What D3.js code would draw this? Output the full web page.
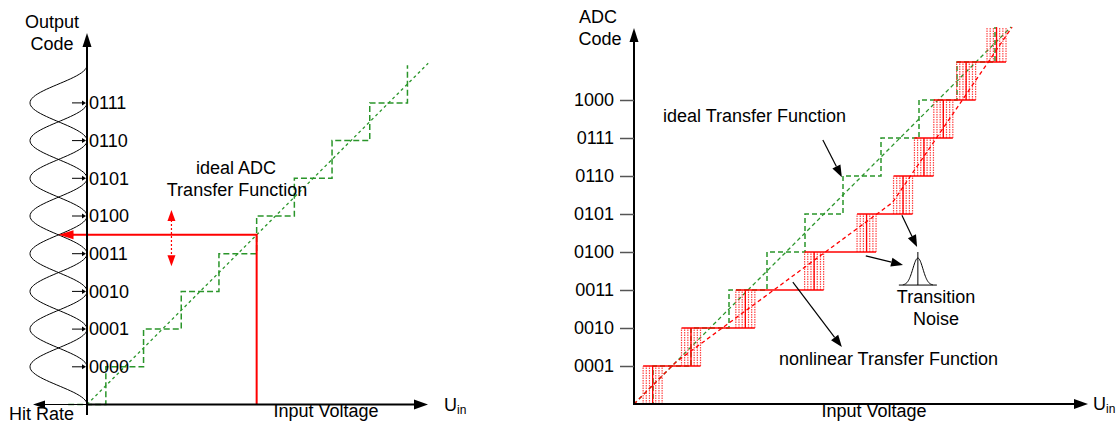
<!DOCTYPE html>
<html>
<head>
<meta charset="utf-8">
<script src="https://cdn.jsdelivr.net/npm/d3@7"></script>
<style>
body { margin: 0; background: #fff; }
svg text { font-family: Arial, "Liberation Sans", sans-serif; font-size: 18px; fill: #000; }
</style>
</head>
<body>
<div id="chart"></div>
<script>
// codes shown on each axis
var leftCodes = ["0000", "0001", "0010", "0011", "0100", "0101", "0110", "0111"];
var rightCodes = ["0001", "0010", "0011", "0100", "0101", "0110", "0111", "1000"];

// transitions (input voltage, in LSB) of the ideal converter
var leftIdealTransitions = [0.5, 1.5, 2.5, 3.5, 4.5, 5.5, 6.5, 7.5, 8.5];
var rightIdealTransitions = [0.5, 1.5, 2.5, 3.5, 4.5, 5.5, 6.5, 7.5, 8.5, 9.5];
// transitions of the nonlinear converter
var nonlinearTransitions = [0.49, 1.5, 2.93, 4.74, 6.12, 7.08, 7.63, 8.14, 8.74, 9.54];
// dashed red trend of the nonlinear transfer function
var nonlinearTrend = [[0, 0], [1.1, 1.1], [6.8, 5.3], [9.95, 9.92]];
// offsets of the noise lines inside a transition band (LSB)
var noiseOffsets = [-0.25, -0.167, -0.083, 0, 0.083, 0.167, 0.25];
var readVoltage = 4.5;

var svg = d3.select("#chart").append("svg").attr("width", 1116).attr("height", 425);

function fleche(g, x1, y1, x2, y2, couleur, longueur, demi, largeur, dash) {
    var a = Math.atan2(y2 - y1, x2 - x1);
    var bx = x2 - longueur * Math.cos(a);
    var by = y2 - longueur * Math.sin(a);
    g.append("line").attr("x1", x1).attr("y1", y1).attr("x2", bx).attr("y2", by)
        .attr("stroke", couleur).attr("stroke-width", largeur)
        .attr("stroke-dasharray", dash || null);
    var px = -Math.sin(a) * demi, py = Math.cos(a) * demi;
    g.append("path")
        .attr("d", "M" + x2 + "," + y2 + "L" + (bx + px) + "," + (by + py) + "L" + (bx - px) + "," + (by - py) + "Z")
        .attr("fill", couleur);
}

function escalier(trans, top) {
    var pts = [[trans[0] - 1, 0]];
    if (trans[0] - 1 < 0 && top > 9.5) pts = [[0, 0]];
    for (var i = 0; i < trans.length; i++) {
        pts.push([trans[i], i]);
        pts.push([trans[i], Math.min(i + 1, top)]);
    }
    return pts;
}

var vert = "#2a952a";
var rouge = "#ff0000";

// ---------------- left panel ----------------
var xL = d3.scaleLinear().domain([0, 9]).range([87, 426.3]);
var yL = d3.scaleLinear().domain([0, 9]).range([404.5, 65.2]);
var hL = d3.scaleLinear().domain([0, 1]).range([87, 30]);
var gL = svg.append("g");

// hit rate curves
var dSteps = d3.range(-1, 1.0001, 0.04);
leftCodes.forEach(function(c, k) {
    gL.append("path")
        .attr("d", d3.line()(dSteps.map(function(d) {
            return [hL((1 + Math.cos(Math.PI * d)) / 2), yL(k + 1 + d)];
        })))
        .attr("fill", "none").attr("stroke", "#000").attr("stroke-width", 1);
});

var lineL = d3.line().x(function(p) { return xL(p[0]); }).y(function(p) { return yL(p[1]); });

gL.append("path").attr("d", lineL(escalier(leftIdealTransitions, 9)))
    .attr("fill", "none").attr("stroke", vert).attr("stroke-width", 1.5).attr("stroke-dasharray", "6,3");
gL.append("path").attr("d", lineL([[0, 0], [9.05, 9.05]]))
    .attr("fill", "none").attr("stroke", vert).attr("stroke-width", 1.3).attr("stroke-dasharray", "3,3");

// red reading of the output
gL.append("path")
    .attr("d", "M" + xL(readVoltage) + "," + yL(0) + "V" + yL(readVoltage) + "H" + (hL(0.5) + 12))
    .attr("fill", "none").attr("stroke", rouge).attr("stroke-width", 2);
fleche(gL, hL(0.5) + 14, yL(readVoltage), hL(0.5), yL(readVoltage), rouge, 15, 4.5, 2);
// dotted double arrow
var xd = xL(2.24);
gL.append("line").attr("x1", xd).attr("x2", xd).attr("y1", yL(5.0)).attr("y2", yL(3.8))
    .attr("stroke", rouge).attr("stroke-width", 1.2).attr("stroke-dasharray", "2,2");
fleche(gL, xd, yL(4.6), xd, yL(5.16), rouge, 11, 4, 0);
fleche(gL, xd, yL(4.2), xd, yL(3.67), rouge, 11, 4, 0);

// axes
gL.append("line").attr("x1", 87).attr("x2", 87).attr("y1", 415).attr("y2", 46)
    .attr("stroke", "#000").attr("stroke-width", 2);
fleche(gL, 87, 60, 87, 33, "#000", 14, 4.5, 2);
fleche(gL, 87, yL(0), 428, yL(0), "#000", 14, 5, 2);
fleche(gL, 87, yL(0), 33, yL(0), "#000", 12, 4, 1.2);

var axL = gL.append("g").attr("transform", "translate(87,0)")
    .call(d3.axisRight(yL).tickValues(d3.range(1, 9)).tickSize(0).tickPadding(2)
        .tickFormat(function(v) { return leftCodes[v - 1]; }));
axL.select(".domain").remove();
axL.selectAll("text").attr("font-size", 18).attr("font-family", "Arial, 'Liberation Sans', sans-serif").attr("fill", "#000");
d3.range(1, 9).forEach(function(v) {
    fleche(gL, 72, yL(v), 86, yL(v), "#000", 4, 2.5, 1);
});

gL.append("text").attr("x", 52).attr("y", 28).attr("text-anchor", "middle").text("Output");
gL.append("text").attr("x", 52).attr("y", 50).attr("text-anchor", "middle").text("Code");
gL.append("text").attr("x", 236).attr("y", 174).attr("text-anchor", "middle").text("ideal ADC");
gL.append("text").attr("x", 237).attr("y", 196).attr("text-anchor", "middle").text("Transfer Function");
gL.append("text").attr("x", 9).attr("y", 420).text("Hit Rate");
gL.append("text").attr("x", 326).attr("y", 417).attr("text-anchor", "middle").text("Input Voltage");
var uL = gL.append("text").attr("x", 444).attr("y", 411);
uL.append("tspan").text("U");
uL.append("tspan").attr("font-size", 12).attr("dy", 3).text("in");

// ---------------- right panel ----------------
var xR = d3.scaleLinear().domain([0, 10]).range([634, 1014]);
var yR = d3.scaleLinear().domain([0, 10]).range([404, 24]);
var topV = 9.92;
var gR = svg.append("g");
var lineR = d3.line().x(function(p) { return xR(p[0]); }).y(function(p) { return yR(p[1]); });

gR.append("path").attr("d", lineR(escalier(rightIdealTransitions, topV)))
    .attr("fill", "none").attr("stroke", vert).attr("stroke-width", 1.5).attr("stroke-dasharray", "5,3");
gR.append("path").attr("d", lineR([[0, 0], [topV, topV]]))
    .attr("fill", "none").attr("stroke", vert).attr("stroke-width", 1.3).attr("stroke-dasharray", "4,3");

// transition noise bands
nonlinearTransitions.forEach(function(t, k) {
    noiseOffsets.forEach(function(o) {
        gR.append("line").attr("x1", xR(t + o)).attr("x2", xR(t + o))
            .attr("y1", yR(k)).attr("y2", yR(Math.min(k + 1, topV)))
            .attr("stroke", "#ff3030").attr("stroke-width", 1.2).attr("stroke-opacity", 0.9)
            .attr("stroke-dasharray", "1.5,1");
    });
    gR.append("line").attr("x1", xR(t)).attr("x2", xR(t))
        .attr("y1", yR(k)).attr("y2", yR(Math.min(k + 1, topV)))
        .attr("stroke", rouge).attr("stroke-width", 1.3);
});
// code levels of the nonlinear converter
for (var k = 1; k < nonlinearTransitions.length; k++) {
    gR.append("line")
        .attr("x1", xR(nonlinearTransitions[k - 1] - 0.25)).attr("x2", xR(nonlinearTransitions[k] + 0.25))
        .attr("y1", yR(k)).attr("y2", yR(k))
        .attr("stroke", rouge).attr("stroke-width", 1.5);
}
gR.append("path").attr("d", lineR(nonlinearTrend))
    .attr("fill", "none").attr("stroke", rouge).attr("stroke-width", 1.3).attr("stroke-dasharray", "4,3");

// axes
fleche(gR, 634, 404, 634, 28, "#000", 14, 4.5, 2);
fleche(gR, 633, 404, 1088, 404, "#000", 14, 5, 2);
var axR = gR.append("g").attr("transform", "translate(634,0)")
    .call(d3.axisLeft(yR).tickValues(d3.range(1, 9)).tickSize(14).tickPadding(6)
        .tickFormat(function(v) { return rightCodes[v - 1]; }));
axR.select(".domain").remove();
axR.selectAll("line").attr("stroke", "#555").attr("stroke-width", 1.5);
axR.selectAll("text").attr("font-size", 18).attr("font-family", "Arial, 'Liberation Sans', sans-serif").attr("fill", "#000");

// transition noise glyph
var nx = xR(7.47), nb = yR(3.13), np = yR(3.84);
gR.append("path")
    .attr("d", d3.line()(d3.range(-15, 15.01, 0.5).map(function(d) {
        return [nx + d, nb - (nb - np) * Math.exp(-d * d / 50)];
    })))
    .attr("fill", "none").attr("stroke", "#000").attr("stroke-width", 1);
gR.append("line").attr("x1", nx - 19).attr("x2", nx + 19).attr("y1", nb).attr("y2", nb)
    .attr("stroke", "#000").attr("stroke-width", 1);
gR.append("line").attr("x1", nx).attr("x2", nx).attr("y1", nb).attr("y2", yR(4.0))
    .attr("stroke", "#000").attr("stroke-width", 1);

// annotation arrows
fleche(gR, xR(4.97), yR(6.95), xR(5.47), yR(5.97), "#000", 12, 4.5, 1.2);
fleche(gR, xR(7.05), yR(4.97), xR(7.45), yR(4.13), "#000", 12, 4.5, 1.2);
fleche(gR, xR(6.1), yR(3.9), xR(7.08), yR(3.66), "#000", 12, 4.5, 1.2);
fleche(gR, xR(4.18), yR(3.21), xR(5.47), yR(1.5), "#000", 12, 4.5, 1.2);

gR.append("text").attr("x", 598).attr("y", 23).attr("text-anchor", "middle").text("ADC");
gR.append("text").attr("x", 600).attr("y", 45).attr("text-anchor", "middle").text("Code");
gR.append("text").attr("x", 663).attr("y", 122).text("ideal Transfer Function");
gR.append("text").attr("x", 936).attr("y", 303).attr("text-anchor", "middle").text("Transition");
gR.append("text").attr("x", 936).attr("y", 325).attr("text-anchor", "middle").text("Noise");
gR.append("text").attr("x", 998).attr("y", 365).attr("text-anchor", "end").text("nonlinear Transfer Function");
gR.append("text").attr("x", 874).attr("y", 417).attr("text-anchor", "middle").text("Input Voltage");
var uR = gR.append("text").attr("x", 1093).attr("y", 410);
uR.append("tspan").text("U");
uR.append("tspan").attr("font-size", 12).attr("dy", 3).text("in");
</script>
</body>
</html>
